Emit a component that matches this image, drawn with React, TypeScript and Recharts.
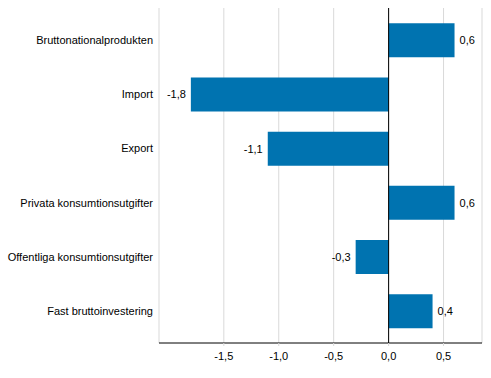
import { BarChart, Bar, XAxis, YAxis, CartesianGrid, ReferenceLine, LabelList } from "recharts";

const categories = [
  "Bruttonationalprodukten",
  "Import",
  "Export",
  "Privata konsumtionsutgifter",
  "Offentliga konsumtionsutgifter",
  "Fast bruttoinvestering",
];
const values = [0.6, -1.8, -1.1, 0.6, -0.3, 0.4];
const xTicks = [-1.5, -1.0, -0.5, 0.0, 0.5];

const data = categories.map((name, i) => ({ name, value: values[i] }));

const fmt = (v: number) => v.toFixed(1).replace(".", ",");

const CategoryTick = (props: any) => {
  const { x, y, payload } = props;
  return (
    <text x={x} y={y} dy={4} textAnchor="end" fill="#000" fontSize={11}>
      {payload.value}
    </text>
  );
};

export default function App() {
  return (
    <div style={{ position: "absolute", left: 0, top: 0 }}>
      <BarChart
        width={491}
        height={378}
        data={data}
        layout="vertical"
        margin={{ top: 8, right: 9, bottom: 5, left: 0 }}
        barCategoryGap="19%"
        style={{ fontFamily: "Liberation Sans, Arial, sans-serif" }}
      >
        <CartesianGrid horizontal={false} stroke="#d9d9d9" />
        <XAxis
          type="number"
          domain={[-2.09, 0.85]}
          ticks={xTicks}
          tickFormatter={fmt}
          height={30}
          axisLine={{ stroke: "#000" }}
          tickLine={{ stroke: "#d9d9d9" }}
          tickSize={3}
          tickMargin={6}
          tick={{ fill: "#000", fontSize: 11 }}
        />
        <YAxis
          type="category"
          dataKey="name"
          width={159}
          padding={{ top: 5, bottom: 5 }}
          axisLine={false}
          tickLine={false}
          tickSize={4}
          tickMargin={2}
          tick={<CategoryTick />}
          interval={0}
        />
        <ReferenceLine x={0} stroke="#000" />
        <Bar dataKey="value" fill="#0073b0" isAnimationActive={false}>
          <LabelList
            dataKey="value"
            position="right"
            offset={5}
            formatter={(v: any) => fmt(Number(v))}
            style={{ fill: "#000", fontSize: 11 }}
          />
        </Bar>
      </BarChart>
    </div>
  );
}
